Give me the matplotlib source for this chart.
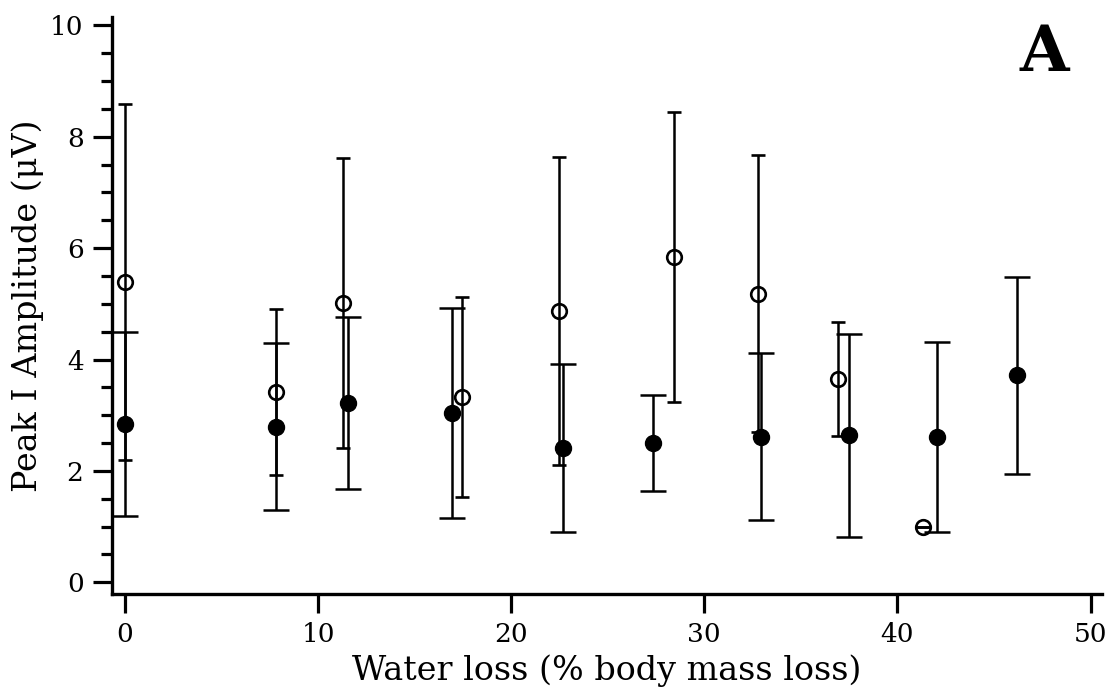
import matplotlib.pyplot as plt
from matplotlib.ticker import MultipleLocator

plt.rcParams['font.family'] = ['DejaVu Serif']

# open circles
open_x = [0.0, 7.8, 11.3, 17.45, 22.5, 28.45, 32.8, 36.9, 41.3]
open_y = [5.39, 3.41, 5.02, 3.33, 4.87, 5.84, 5.18, 3.65, 0.99]
open_sd = [3.2, 1.49, 2.6, 1.8, 2.77, 2.6, 2.49, 1.02, 0.0]

# filled circles
filled_x = [0.0, 7.8, 11.55, 16.95, 22.7, 27.35, 32.95, 37.5, 42.07, 46.2]
filled_y = [2.84, 2.79, 3.22, 3.04, 2.41, 2.5, 2.61, 2.64, 2.61, 3.72]
filled_sd = [1.65, 1.5, 1.54, 1.89, 1.51, 0.86, 1.5, 1.82, 1.7, 1.77]

fig = plt.figure(figsize=(11.11, 6.89), dpi=100)
ax = fig.add_axes([0.1008, 0.1379, 0.8912, 0.8374])

ax.errorbar(filled_x, filled_y, yerr=filled_sd, fmt='o', color='black',
            markersize=11.5, elinewidth=1.8, capsize=9.7, capthick=1.8, zorder=3)
ax.errorbar(open_x, open_y, yerr=open_sd, fmt='o', color='black',
            markerfacecolor='none', markeredgewidth=1.9, markersize=10.5,
            elinewidth=1.8, capsize=4.7, capthick=1.8, zorder=4)

ax.set_xlim(-0.67, 50.6)
ax.set_ylim(-0.21, 10.15)

ax.xaxis.set_major_locator(MultipleLocator(10))
ax.yaxis.set_major_locator(MultipleLocator(2))
ax.yaxis.set_minor_locator(MultipleLocator(0.5))

for s in ['top', 'right']:
    ax.spines[s].set_visible(False)
for s in ['left', 'bottom']:
    ax.spines[s].set_linewidth(2.4)

ax.tick_params(axis='both', which='major', direction='out', length=13.5,
               width=2.3, labelsize=19, pad=7)
ax.tick_params(axis='y', which='minor', direction='out', length=8, width=2.3)

ax.set_xlabel('Water loss (% body mass loss)', fontsize=24, labelpad=5)
ax.set_ylabel('Peak I Amplitude (\u03bcV)', fontsize=24, labelpad=4)

ax.text(47.6, 9.5, 'A', fontsize=46, fontweight='bold', ha='center', va='center')

fig.savefig('out.png', dpi=100)
